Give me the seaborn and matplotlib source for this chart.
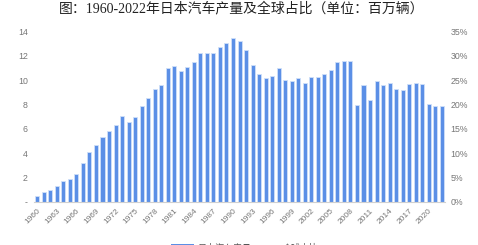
import matplotlib
matplotlib.use("Agg")
import matplotlib.pyplot as plt
import seaborn as sns
import pandas as pd
import numpy as np
from matplotlib.patches import Patch
from matplotlib.lines import Line2D
from matplotlib.ticker import FuncFormatter

years = list(range(1960, 2023))
production = [0.48, 0.81, 0.99, 1.28, 1.70, 1.88, 2.29, 3.15, 4.09, 4.67,
              5.29, 5.81, 6.29, 7.08, 6.55, 6.94, 7.84, 8.51, 9.27, 9.64,
              11.04, 11.18, 10.73, 11.11, 11.46, 12.27, 12.26, 12.25, 12.70, 13.03,
              13.49, 13.25, 12.50, 11.23, 10.55, 10.20, 10.35, 10.98, 10.05, 9.90,
              10.14, 9.78, 10.26, 10.29, 10.51, 10.80, 11.48, 11.60, 11.56, 7.93,
              9.63, 8.40, 9.94, 9.63, 9.77, 9.28, 9.20, 9.69, 9.73, 9.68,
              8.07, 7.85, 7.84]
title = "图：1960-2022年日本汽车产量及全球占比（单位：百万辆）"
series_names = ["日本汽车产量", "全球占比"]
left_ticks = [0, 2, 4, 6, 8, 10, 12, 14]
right_ticks = [0, 0.05, 0.10, 0.15, 0.20, 0.25, 0.30, 0.35]

sns.set_style("white")
plt.rcParams['font.family'] = ['Liberation Sans', 'Noto Sans CJK SC', 'DejaVu Sans']

df = pd.DataFrame({"year": [str(y) for y in years], "prod": production})

fig = plt.figure(figsize=(4.78, 2.45), dpi=100)
ax = fig.add_axes([0.0711, 0.177, 0.86, 0.694])
bar_color = "#5b8fe6"
sns.barplot(data=df, x="year", y="prod", ax=ax, color=bar_color, width=0.62,
            edgecolor="#cfe0f8", linewidth=0.6, saturation=1)
ax.set_xlim(-0.5, len(years) - 0.5)
ax.set_ylim(0, 14)
ax.set_xlabel("")
ax.set_ylabel("")

gray = "#777777"
lab_pos = list(range(0, len(years), 3))
ax.set_xticks(lab_pos)
ax.set_xticklabels([str(years[i]) for i in lab_pos], rotation=45, ha="right",
                   rotation_mode="anchor", fontsize=6, color=gray)
ax.set_xticks([p - 0.5 for p in lab_pos] + [len(years) - 0.5], minor=True)
ax.tick_params(axis="x", which="major", length=0, pad=4)
ax.tick_params(axis="x", which="minor", length=3, color="#cccccc", width=0.6)

ax.set_yticks(left_ticks)
ax.set_yticklabels(["-" if v == 0 else str(v) for v in left_ticks], fontsize=6.3, color=gray)
ax.tick_params(axis="y", length=0, pad=4.5)

for s in ["top", "right", "left"]:
    ax.spines[s].set_visible(False)
ax.spines["bottom"].set_color("#d0d0d0")
ax.spines["bottom"].set_linewidth(0.8)

ax2 = ax.twinx()
ax2.set_ylim(0, 0.35)
ax2.set_yticks(right_ticks)
ax2.yaxis.set_major_formatter(FuncFormatter(lambda v, p: f"{v*100:.0f}%"))
ax2.tick_params(axis="y", length=0, labelsize=6.3, labelcolor=gray, pad=4)
for s in ["top", "right", "left", "bottom"]:
    ax2.spines[s].set_visible(False)

fig.text(0.505, 0.965, title, ha="center", va="center", fontsize=10,
         family=['Liberation Serif', 'Noto Sans CJK SC'], color="#222222")

handles = [Patch(facecolor=bar_color, edgecolor="none"),
           Line2D([0], [0], color="#d4e9f7", lw=4)]
fig.legend(handles, series_names, loc="center", bbox_to_anchor=(0.512, -0.012),
           ncol=2, frameon=False, fontsize=6.5, handlelength=2.6,
           columnspacing=0.4, handletextpad=0.4, labelcolor="#555555")

fig.savefig("out.png", dpi=100)
